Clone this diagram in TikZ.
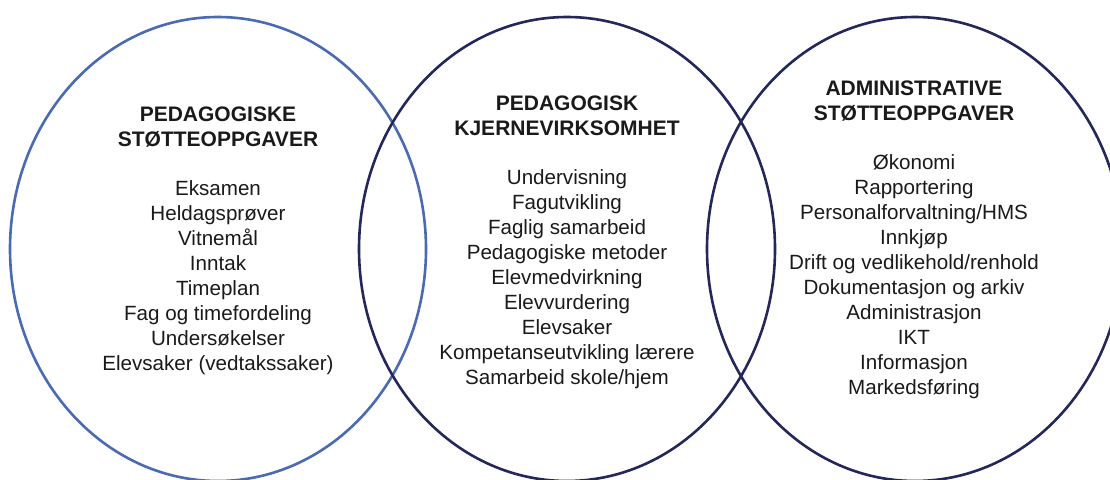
\documentclass[tikz,border=0pt]{standalone}
\usepackage{fontspec}
\setmainfont{Liberation Sans}
\definecolor{ringlight}{HTML}{4A6BB3}
\definecolor{ringdark}{HTML}{24275A}
\definecolor{ink}{HTML}{1A1A1A}
\begin{document}
\begin{tikzpicture}[x=1pt,y=-1pt,
  ring/.style={line width=2.6pt},
  heading/.style={align=center,text=ink,font=\fontsize{21}{25}\selectfont\bfseries,inner sep=0pt},
  tasks/.style={align=center,text=ink,font=\fontsize{20.6}{25}\selectfont,inner sep=0pt}]
\useasboundingbox[fill=white] (0,0) rectangle (1110,479);

% three overlapping task areas
\draw[ring,draw=ringlight] (218,249) ellipse [x radius=208, y radius=232];
\draw[ring,draw=ringdark] (567,249) ellipse [x radius=208, y radius=232];
\draw[ring,draw=ringdark] (915,249) ellipse [x radius=208, y radius=232];

% left: pedagogical support tasks
\node[heading] (lefthead) at (218,127) {PEDAGOGISKE\\STØTTEOPPGAVER};
\node[tasks] (leftlist) at (218,278) {Eksamen\\Heldagsprøver\\Vitnemål\\Inntak\\Timeplan\\Fag og timefordeling\\Undersøkelser\\Elevsaker (vedtakssaker)};

% middle: core pedagogical activity
\node[heading] (midhead) at (567,116) {PEDAGOGISK\\KJERNEVIRKSOMHET};
\node[tasks] (midlist) at (567,279) {Undervisning\\Fagutvikling\\Faglig samarbeid\\Pedagogiske metoder\\Elevmedvirkning\\Elevvurdering\\Elevsaker\\Kompetanseutvikling lærere\\Samarbeid skole/hjem};

% right: administrative support tasks
\node[heading] (righthead) at (914,101) {ADMINISTRATIVE\\STØTTEOPPGAVER};
\node[tasks] (rightlist) at (914,276.5) {Økonomi\\Rapportering\\Personalforvaltning/HMS\\Innkjøp\\Drift og vedlikehold/renhold\\Dokumentasjon og arkiv\\Administrasjon\\IKT\\Informasjon\\Markedsføring};
\end{tikzpicture}
\end{document}
